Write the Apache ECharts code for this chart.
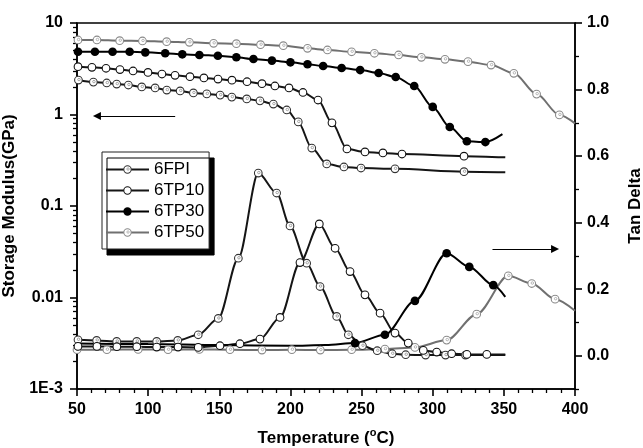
<!DOCTYPE html>
<html><head><meta charset="utf-8">
<script src="https://cdn.jsdelivr.net/npm/echarts@6/dist/echarts.min.js"></script>
<style>html,body{margin:0;padding:0;background:#fff}#c{width:643px;height:448px}</style>
</head><body><div id="c"></div>
<script>
// ---------- data ----------
const seriesNames = ['6FPI', '6TP10', '6TP30', '6TP50'];

// Storage modulus (GPa), left log axis
const fpiE_T = [51, 61.5, 70.9, 77.9, 86.1, 95.5, 104.9, 113.1, 122.5, 131.8, 141.2, 150.6, 158.8, 169.3, 178.6, 188, 197.4, 205.5, 215, 225.5, 237.6, 249.6, 273.5, 322, 351];
const fpiE   = [2.38, 2.26, 2.21, 2.15, 2.10, 2.00, 1.95, 1.85, 1.81, 1.72, 1.68, 1.63, 1.55, 1.48, 1.41, 1.30, 1.12, 0.83, 0.43, 0.288, 0.267, 0.26, 0.255, 0.237, 0.234];
const tp10E_T = [50.7, 60.5, 70.4, 80.2, 89.4, 99.9, 109.7, 118.9, 129.4, 139.2, 149.1, 158.9, 169.5, 180, 189.1, 199, 208.8, 219.4, 229.2, 239.7, 252.4, 265, 278.4, 322, 351];
const tp10E   = [3.33, 3.28, 3.20, 3.10, 2.99, 2.88, 2.77, 2.68, 2.59, 2.51, 2.44, 2.37, 2.28, 2.17, 2.05, 1.95, 1.74, 1.44, 0.81, 0.42, 0.39, 0.38, 0.37, 0.35, 0.34];
const tp30E_T = [50.7, 62.6, 75, 87, 98, 112, 124, 136, 149, 162, 174, 187, 200, 212, 223, 236, 249, 262, 274, 287, 300, 312, 324, 337, 349];
const tp30E   = [4.85, 4.85, 4.85, 4.85, 4.78, 4.67, 4.55, 4.47, 4.39, 4.22, 4.04, 3.88, 3.72, 3.54, 3.39, 3.22, 3.06, 2.84, 2.57, 2.05, 1.21, 0.73, 0.51, 0.50, 0.61];
const tp50E_T = [50.7, 64, 80, 96, 113, 129, 146, 162, 179, 195, 212, 226, 243, 259, 276, 292, 308.6, 324.8, 341, 357, 373, 389, 400];
const tp50E   = [6.52, 6.52, 6.41, 6.36, 6.25, 6.15, 6.0, 5.94, 5.79, 5.65, 5.29, 5.07, 4.85, 4.67, 4.47, 4.22, 4.01, 3.78, 3.47, 2.82, 1.67, 0.99, 0.80];

// Tan delta, right axis
const fpiTan_T = [50.7, 63.8, 77.9, 92, 106, 120.8, 135.2, 149.3, 163.4, 177.4, 190.3, 199.7, 211.4, 220.8, 232.5, 240.7, 250.6, 261, 271.5, 281, 295, 309, 323, 351];
const fpiTan   = [0.048, 0.046, 0.043, 0.043, 0.043, 0.046, 0.063, 0.112, 0.293, 0.549, 0.489, 0.39, 0.278, 0.208, 0.118, 0.063, 0.03, 0.015, 0.006, 0.003, 0.002, 0.002, 0.002, 0.002];
const tp10Tan_T = [50.7, 64, 78, 92, 106, 121, 135.2, 150.5, 164.5, 178.6, 192.7, 206.7, 220.3, 231.4, 241.9, 252.4, 263, 273.5, 282.8, 293.4, 302.8, 313.3, 324, 338, 351];
const tp10Tan   = [0.028, 0.028, 0.027, 0.027, 0.026, 0.026, 0.025, 0.03, 0.036, 0.05, 0.115, 0.28, 0.396, 0.323, 0.253, 0.183, 0.128, 0.068, 0.038, 0.016, 0.011, 0.006, 0.004, 0.004, 0.004];
const tp30Tan_T = [50, 100, 150, 200, 225, 245.4, 266.4, 287.5, 309.8, 325.7, 342.6, 351];
const tp30Tan   = [0.037, 0.035, 0.032, 0.03, 0.032, 0.038, 0.063, 0.165, 0.308, 0.267, 0.212, 0.177];
const tp50Tan_T = [50, 71, 93, 114, 136, 157.5, 180, 201, 221, 243, 266.4, 287.5, 309.8, 330.9, 353.1, 369.6, 386, 400];
const tp50Tan   = [0.018, 0.018, 0.019, 0.018, 0.019, 0.018, 0.017, 0.018, 0.017, 0.018, 0.02, 0.025, 0.047, 0.125, 0.24, 0.217, 0.17, 0.135];

// indices of points that are only line points (no marker)
const fpiE_plain = [24], tp10E_plain = [24], tp30E_plain = [24], tp50E_plain = [22];
const fpiTan_plain = [23], tp10Tan_plain = [24], tp30Tan_plain = [0, 1, 2, 3, 4, 11], tp50Tan_plain = [17];

// tick labels
const leftTickLabels = ['1E-3', '0.01', '0.1', '1', '10'];
const rightTickValues = [0, 0.2, 0.4, 0.6, 0.8, 1.0];
const rightMinorTickValues = [-0.1, 0.1, 0.3, 0.5, 0.7, 0.9];
const leftMinorTickValues = [];
[0.001, 0.01, 0.1, 1].forEach(d => { for (let k = 2; k <= 9; k++) leftMinorTickValues.push(+(d * k).toPrecision(3)); });

// annotation arrows (data coordinates)
const arrowLeft = { from: [119, 0.96], to: [64, 0.96] };
const arrowRight = { from: [342, 0.321], to: [386, 0.321] };

// ---------- styles ----------
function svgSym(inner) {
  const s = '<svg xmlns="http://www.w3.org/2000/svg" width="24" height="24" viewBox="0 0 12 12">' + inner + '</svg>';
  return 'image://data:image/svg+xml;charset=utf-8,' + encodeURIComponent(s);
}
const symFPI = svgSym('<circle cx="6" cy="6" r="4.6" fill="#fff" stroke="#333" stroke-width="1.3"/><circle cx="6.7" cy="5.4" r="1.5" fill="none" stroke="#8a8a8a" stroke-width="0.9"/>');
const symTP10 = svgSym('<circle cx="6" cy="6" r="4.6" fill="#fff" stroke="#111" stroke-width="1.3"/>');
const symTP30 = svgSym('<circle cx="6" cy="6" r="5.2" fill="#000"/>');
const symTP50 = svgSym('<circle cx="6" cy="6" r="4.6" fill="#fff" stroke="#8a8a8a" stroke-width="1.3"/><circle cx="6.7" cy="5.4" r="1.5" fill="none" stroke="#a0a0a0" stroke-width="0.9"/>');

const styles = {
  '6FPI':  { color: '#151515', symbol: symFPI },
  '6TP10': { color: '#151515', symbol: symTP10 },
  '6TP30': { color: '#000000', symbol: symTP30 },
  '6TP50': { color: '#707070', symbol: symTP50 }
};

function mk(name, T, V, plain, yIdx, extra) {
  const st = styles[name];
  const data = T.map((t, i) => plain.includes(i) ? { value: [t, V[i]], symbol: 'none' } : [t, V[i]]);
  return Object.assign({
    name, type: 'line', yAxisIndex: yIdx, data,
    symbol: st.symbol, symbolSize: 10, showAllSymbol: true,
    smooth: 0.3, smoothMonotone: 'x',
    lineStyle: { color: st.color, width: 2 },
    itemStyle: { color: st.color },
    emphasis: { disabled: true }, silent: true
  }, extra || {});
}

const FONT = 'Liberation Sans, Arial, Helvetica, sans-serif';
const axisCommon = {
  axisLine: { show: true, onZero: false, lineStyle: { color: '#000', width: 1.5 } },
  splitLine: { show: false }
};

const arrowLine = (a) => ({
  silent: true, symbol: ['none', 'triangle'], symbolSize: 8,
  label: { show: false }, lineStyle: { color: '#000', width: 1.2, type: 'solid' },
  emphasis: { disabled: true },
  data: [[{ coord: a.from }, { coord: a.to }]]
});

const gridRect = { left: 77, right: 68, top: 23, bottom: 59, outerBoundsMode: 'none', containLabel: false };
const nameStyle = { fontSize: 17, fontWeight: 'bold', color: '#000', fontFamily: FONT };
const majorTick = { show: true, length: 7, lineStyle: { color: '#000', width: 1.6 } };
const minorTickStyle = { color: '#000', width: 1.3 };

const option = {
  animation: false,
  backgroundColor: '#fff',
  grid: [
    Object.assign({ show: true, borderColor: '#000', borderWidth: 1.5 }, gridRect),
    Object.assign({ show: false }, gridRect)
  ],
  legend: {
    data: seriesNames, orient: 'vertical', left: 102, top: 152,
    backgroundColor: '#fff', borderColor: '#222', borderWidth: 1,
    shadowColor: '#000', shadowBlur: 0, shadowOffsetX: 5, shadowOffsetY: 6,
    padding: [9, 5, 8, 3], itemGap: 4, itemWidth: 43, itemHeight: 12,
    textStyle: { fontSize: 17, color: '#000', fontFamily: FONT, lineHeight: 17 },
    selectedMode: false
  },
  xAxis: [
    Object.assign({
      type: 'value', min: 50, max: 400, interval: 50, gridIndex: 0,
      axisTick: majorTick,
      minorTick: { show: true, splitNumber: 5, length: 4, lineStyle: minorTickStyle },
      axisLabel: { fontSize: 16, fontWeight: 'bold', color: '#000', margin: 13, fontFamily: FONT },
      name: 'Temperature ({sup|o}C)', nameLocation: 'middle', nameGap: 38,
      nameTextStyle: Object.assign({
        lineHeight: 22,
        rich: { sup: { fontSize: 11, fontWeight: 'bold', fontFamily: FONT, verticalAlign: 'top', lineHeight: 10 } }
      }, nameStyle)
    }, axisCommon),
    { type: 'value', min: 50, max: 400, interval: 50, gridIndex: 1, show: false }
  ],
  yAxis: [
    Object.assign({
      type: 'log', logBase: 10, min: 0.001, max: 10, position: 'left', gridIndex: 0,
      axisTick: majorTick,
      axisLabel: { fontSize: 16, fontWeight: 'bold', color: '#000', margin: 14, fontFamily: FONT,
        formatter: v => leftTickLabels[Math.round(Math.log10(v)) + 3] },
      name: 'Storage Modulus(GPa)', nameLocation: 'middle', nameGap: 57,
      nameTextStyle: nameStyle
    }, axisCommon),
    Object.assign({
      type: 'value', min: -0.1, max: 1.0, interval: 0.1, position: 'right', gridIndex: 0,
      axisTick: Object.assign({ customValues: rightTickValues }, majorTick),
      axisLabel: { fontSize: 16, fontWeight: 'bold', color: '#000', margin: 12, fontFamily: FONT,
        customValues: rightTickValues, formatter: v => v.toFixed(1) },
      name: 'Tan Delta', nameLocation: 'middle', nameGap: 52,
      nameTextStyle: nameStyle
    }, axisCommon),
    {
      type: 'value', min: -0.1, max: 1.0, interval: 0.1, position: 'right', gridIndex: 1,
      axisLine: { show: false, onZero: false }, splitLine: { show: false }, axisLabel: { show: false },
      axisTick: { show: true, length: 4, customValues: rightMinorTickValues, lineStyle: minorTickStyle }
    },
    {
      type: 'log', logBase: 10, min: 0.001, max: 10, position: 'left', gridIndex: 1,
      axisLine: { show: false, onZero: false }, splitLine: { show: false }, axisLabel: { show: false },
      axisTick: { show: true, length: 4, customValues: leftMinorTickValues, lineStyle: minorTickStyle }
    }
  ],
  series: [
    mk('6FPI', fpiE_T, fpiE, fpiE_plain, 0, { markLine: arrowLine(arrowLeft) }),
    mk('6TP10', tp10E_T, tp10E, tp10E_plain, 0),
    mk('6TP30', tp30E_T, tp30E, tp30E_plain, 0),
    mk('6TP50', tp50E_T, tp50E, tp50E_plain, 0),
    mk('6TP50', tp50Tan_T, tp50Tan, tp50Tan_plain, 1),
    mk('6FPI', fpiTan_T, fpiTan, fpiTan_plain, 1),
    mk('6TP10', tp10Tan_T, tp10Tan, tp10Tan_plain, 1),
    mk('6TP30', tp30Tan_T, tp30Tan, tp30Tan_plain, 1, { markLine: arrowLine(arrowRight) })
  ]
};

const chart = echarts.init(document.getElementById('c'), null, { renderer: 'canvas' });
chart.setOption(option);
</script>
</body></html>
